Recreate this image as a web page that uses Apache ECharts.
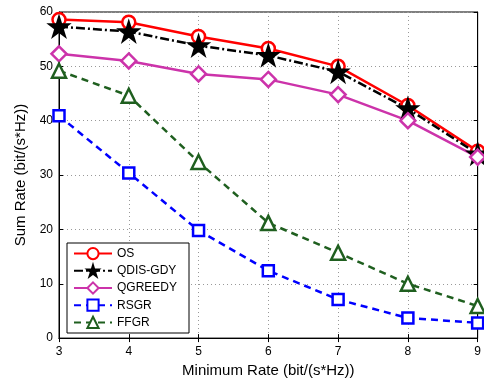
<!DOCTYPE html>
<html><head><meta charset="utf-8">
<script src="https://cdn.jsdelivr.net/npm/echarts@6/dist/echarts.min.js"></script>
<style>html,body{margin:0;padding:0;background:#fff}#c{width:484px;height:383px}</style>
</head><body><div id="c"></div>
<script>
const xValues = [3, 4, 5, 6, 7, 8, 9];
const osData = [58.6, 58.1, 55.5, 53.3, 50.0, 42.8, 34.4];
const qdisData = [57.3, 56.4, 53.8, 52.0, 49.0, 42.2, 33.9];
const qgreedyData = [52.3, 51.0, 48.6, 47.6, 44.8, 40.0, 33.3];
const rsgrData = [40.9, 30.4, 19.8, 12.4, 7.1, 3.7, 2.8];
const ffgrData = [49.2, 44.6, 32.4, 21.2, 15.7, 10.0, 5.9];
const seriesNames = ['OS', 'QDIS-GDY', 'QGREEDY', 'RSGR', 'FFGR'];

const star = 'path://M50,0 L61.8,36.3 L100,36.3 L69.1,58.8 L80.9,95.1 L50,72.6 L19.1,95.1 L30.9,58.8 L0,36.3 L38.2,36.3 Z';
const font = 'Liberation Sans';
const pair = d => xValues.map((x, i) => [x, d[i]]);

const chart = echarts.init(document.getElementById('c'));
const mk = (name, data, color, lineType, width, symbol, size, filled) => ({
  name, type: 'line', data: pair(data), symbol, symbolSize: size,
  lineStyle: {color, width, type: lineType},
  itemStyle: {color: filled ? color : '#fff', borderColor: color, borderWidth: 2.5},
  emphasis: {disabled: true}, animation: false, z: 3
});
chart.setOption({
  animation: false,
  textStyle: {fontFamily: font},
  grid: {left: 59, right: 6, top: 12, bottom: 41, show: true, borderColor: '#000', borderWidth: 1},
  legend: {
    orient: 'vertical', left: 67, top: 243, itemWidth: 38, itemHeight: 14, itemGap: 4,
    borderColor: '#000', borderWidth: 1, padding: [4, 12, 4, 6], backgroundColor: '#fff',
    textStyle: {fontFamily: font, fontSize: 12, color: '#000'}, data: seriesNames
  },
  xAxis: [{
    type: 'value', min: 3, max: 9, interval: 1,
    name: 'Minimum Rate (bit/(s*Hz))', nameLocation: 'middle', nameGap: 24,
    nameTextStyle: {fontSize: 15, color: '#000', fontFamily: font},
    axisLine: {lineStyle: {color: '#000', width: 1}},
    axisTick: {inside: true, length: 4, lineStyle: {color: '#000'}},
    axisLabel: {color: '#000', fontSize: 12, margin: 8},
    splitLine: {show: true, lineStyle: {color: '#999', type: [1, 3]}}
  }, {
    type: 'value', min: 3, max: 9, interval: 1, position: 'top',
    axisLine: {lineStyle: {color: '#000'}}, axisTick: {inside: true, length: 4, lineStyle: {color: '#000'}},
    axisLabel: {show: false}, splitLine: {show: false}
  }],
  yAxis: [{
    type: 'value', min: 0, max: 60, interval: 10,
    name: 'Sum Rate (bit/(s*Hz))', nameLocation: 'middle', nameGap: 31,
    nameTextStyle: {fontSize: 15, color: '#000', fontFamily: font},
    axisLine: {show: true, lineStyle: {color: '#000', width: 1}},
    axisTick: {show: true, inside: true, length: 4, lineStyle: {color: '#000'}},
    axisLabel: {color: '#000', fontSize: 12, margin: 6},
    splitLine: {show: true, lineStyle: {color: '#999', type: [1, 3]}}
  }, {
    type: 'value', min: 0, max: 60, interval: 10, position: 'right',
    axisLine: {show: true, lineStyle: {color: '#000'}}, axisTick: {show: true, inside: true, length: 4, lineStyle: {color: '#000'}},
    axisLabel: {show: false}, splitLine: {show: false}
  }],
  series: [
    mk('OS', osData, '#ff0000', 'solid', 2.5, 'circle', 13, false),
    mk('QDIS-GDY', qdisData, '#000000', [9, 3, 2, 3], 2.5, star, 18, true),
    mk('QGREEDY', qgreedyData, '#cc33aa', 'solid', 2.5, 'diamond', 15, false),
    mk('RSGR', rsgrData, '#0000ff', [7, 5], 2.5, 'rect', 11, false),
    mk('FFGR', ffgrData, '#1f5f1f', [7, 5], 2.5, 'triangle', 14, false)
  ]
});
</script></body></html>
